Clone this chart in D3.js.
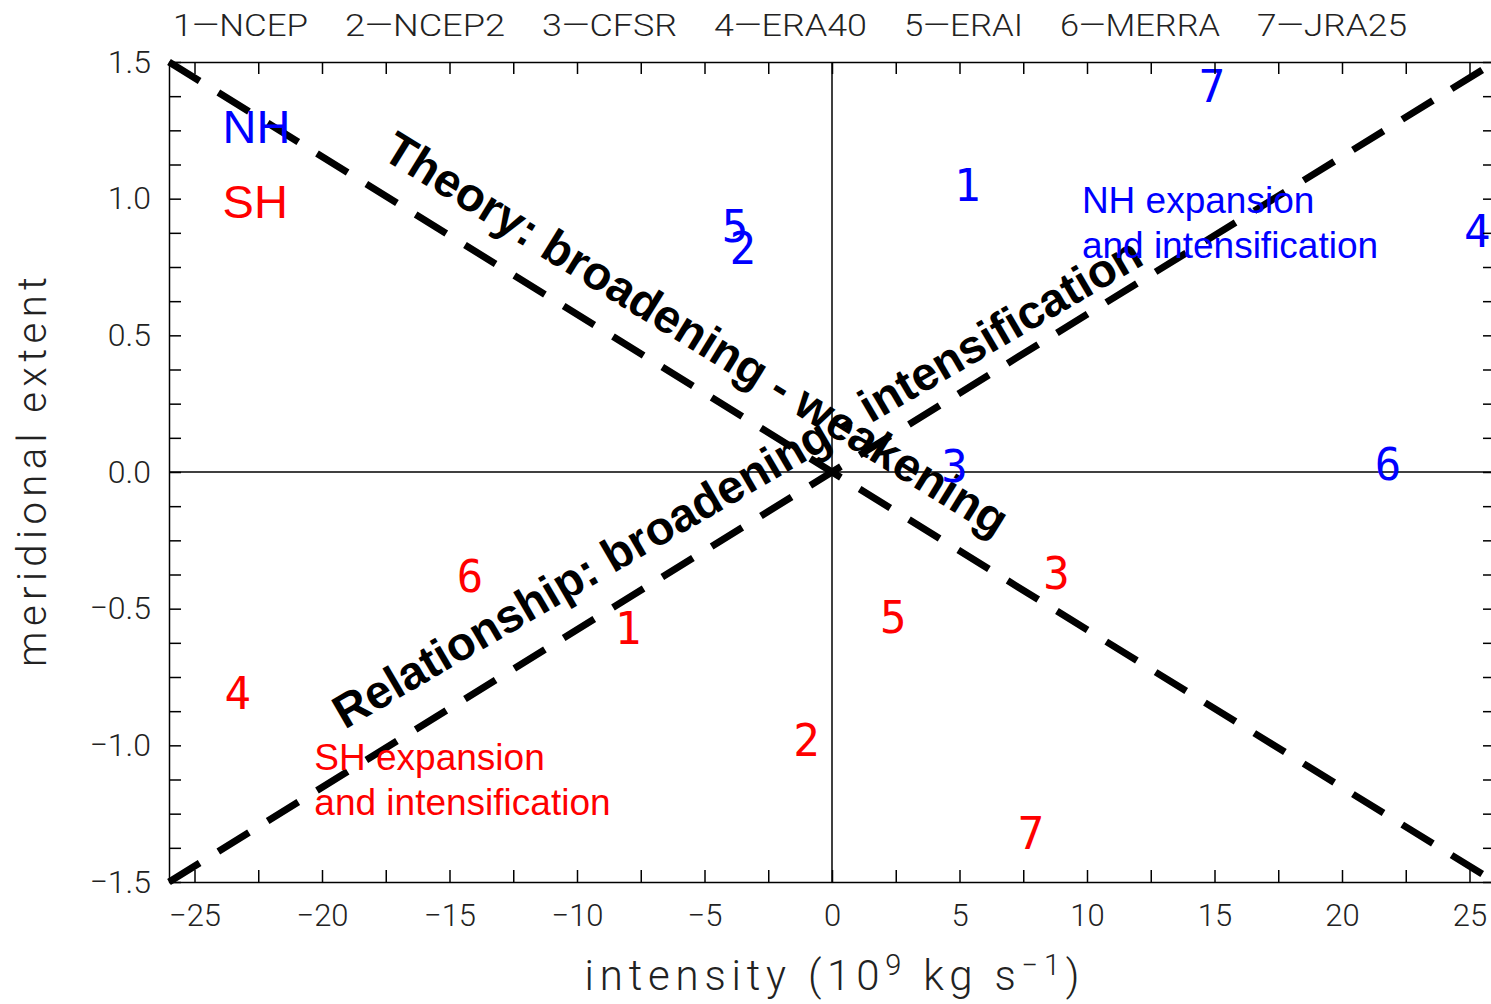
<!DOCTYPE html>
<html lang="en">
  <head>
    <meta charset="utf-8" />
    <title>Meridional extent vs intensity</title>
    <script src="https://d3js.org/d3.v7.min.js"></script>
    <style>
      body {
        margin: 0;
        background: white;
      }
      .axis path,
      .axis line {
        stroke: black;
        stroke-width: 1.5;
      }
      .axis text,
      .thin {
        font-family: "Roboto Light", Roboto, sans-serif;
        font-weight: 300;
        fill: #222;
      }
      .zero {
        stroke: black;
        stroke-width: 1.5;
      }
      .ref {
        stroke: black;
        stroke-width: 7;
        stroke-dasharray: 36, 22;
        fill: none;
      }
      .claim {
        font-family: "Liberation Sans", Arial, sans-serif;
        font-weight: bold;
        font-size: 47px;
        fill: black;
      }
      .note {
        font-family: "Liberation Sans", Arial, sans-serif;
      }
      .marker {
        font-family: "DejaVu Sans Mono", monospace;
        font-size: 44px;
        text-anchor: middle;
      }
    </style>
  </head>
  <body>
    <svg width="1491" height="1004"></svg>
    <script>
      // reanalysis products, numbered 1..7
      const datasets = ["NCEP", "NCEP2", "CFSR", "ERA40", "ERAI", "MERRA", "JRA25"];
      // NH: intensity (1e9 kg/s) and meridional extent
      const nhIntensity = [5.3, -3.5, 4.8, 25.3, -3.8, 21.8, 14.9];
      const nhExtent = [1.05, 0.82, 0.02, 0.88, 0.9, 0.03, 1.41];
      // SH
      const shIntensity = [-8.0, -1.0, 8.8, -23.3, 2.4, -14.2, 7.8];
      const shExtent = [-0.57, -0.98, -0.37, -0.81, -0.53, -0.38, -1.32];

      const xMajorTicks = [-25, -20, -15, -10, -5, 0, 5, 10, 15, 20, 25];
      const yMajorTicks = [-1.5, -1.0, -0.5, 0.0, 0.5, 1.0, 1.5];

      const svg = d3.select("svg");
      const x = d3.scaleLinear().domain([-26, 26]).range([169, 1495]);
      const y = d3.scaleLinear().domain([-1.5, 1.5]).range([882, 62]);

      const xMinor = d3.range(-25, 25.01, 2.5);
      const yMinor = d3.range(-1.5, 1.501, 0.125);
      const isMajor = (v, list) => list.some((t) => Math.abs(t - v) < 1e-6);

      // zero lines
      svg.append("line").attr("class", "zero")
        .attr("x1", x(0)).attr("x2", x(0)).attr("y1", y(-1.5)).attr("y2", y(1.5));
      svg.append("line").attr("class", "zero")
        .attr("x1", x(-26)).attr("x2", x(26)).attr("y1", y(0)).attr("y2", y(0));

      // the two dashed reference lines, corner to corner
      const refLines = [
        [[-26, 1.5], [26, -1.5]],
        [[-26, -1.5], [26, 1.5]],
      ];
      svg.append("g").selectAll("line").data(refLines).join("line")
        .attr("class", "ref")
        .attr("x1", (d) => x(d[0][0])).attr("y1", (d) => y(d[0][1]))
        .attr("x2", (d) => x(d[1][0])).attr("y2", (d) => y(d[1][1]));

      // rotated statements along the lines
      const angle1 = (Math.atan2(y(-1.5) - y(1.5), x(26) - x(-26)) * 180) / Math.PI;
      const claims = [
        { text: "Theory: broadening - weakening", x: -5.65, y: 0.455, rot: angle1 },
        { text: "Relationship: broadening - intensification", x: -3.4, y: -0.09, rot: -30.2 },
      ];
      svg.append("g").selectAll("text").data(claims).join("text")
        .attr("class", "claim")
        .attr("text-anchor", "middle")
        .attr("transform", (d) => `translate(${x(d.x)},${y(d.y)}) rotate(${d.rot})`)
        .text((d) => d.text);

      // coloured notes
      const notes = [
        { text: "NH", x: -23.9, y: 1.205, size: 47, color: "#0000ff" },
        { text: "SH", x: -23.9, y: 0.929, size: 47, color: "#ff0000" },
        { text: "NH expansion", x: 9.8, y: 0.948, size: 37, color: "#0000ff" },
        { text: "and intensification", x: 9.8, y: 0.783, size: 37, color: "#0000ff" },
        { text: "SH expansion", x: -20.3, y: -1.09, size: 37, color: "#ff0000" },
        { text: "and intensification", x: -20.3, y: -1.255, size: 37, color: "#ff0000" },
      ];
      svg.append("g").selectAll("text").data(notes).join("text")
        .attr("class", "note")
        .attr("x", (d) => x(d.x)).attr("y", (d) => y(d.y))
        .attr("font-size", (d) => d.size)
        .attr("fill", (d) => d.color)
        .text((d) => d.text);

      // dataset number markers
      const markers = datasets.flatMap((name, i) => [
        { n: i + 1, x: nhIntensity[i], y: nhExtent[i], color: "#0000ff" },
        { n: i + 1, x: shIntensity[i], y: shExtent[i], color: "#ff0000" },
      ]);
      svg.append("g").selectAll("text").data(markers).join("text")
        .attr("class", "marker")
        .attr("x", (d) => x(d.x)).attr("y", (d) => y(d.y))
        .attr("dy", "0.36em")
        .attr("fill", (d) => d.color)
        .text((d) => d.n);

      // axes: ticks inward on all four sides
      const fmtX = (v) => (isMajor(v, xMajorTicks) ? String(v).replace("-", "\u2212") : "");
      const fmtY = (v) => (isMajor(v, yMajorTicks) ? d3.format(".1f")(v).replace("-", "\u2212") : "");

      const bottom = svg.append("g").attr("class", "axis")
        .attr("transform", `translate(0,${y(-1.5)})`)
        .call(d3.axisBottom(x).tickValues(xMinor).tickSize(-12).tickSizeOuter(0).tickFormat(fmtX));
      bottom.selectAll("text").attr("y", 22).attr("font-size", 31);

      svg.append("g").attr("class", "axis")
        .attr("transform", `translate(0,${y(1.5)})`)
        .call(d3.axisTop(x).tickValues(xMinor).tickSize(-12).tickSizeOuter(0).tickFormat(""));

      const left = svg.append("g").attr("class", "axis")
        .attr("transform", `translate(${x(-26)},0)`)
        .call(d3.axisLeft(y).tickValues(yMinor).tickSize(-12).tickSizeOuter(0).tickFormat(fmtY));
      left.selectAll("text").attr("x", -18).attr("font-size", 32);

      svg.append("g").attr("class", "axis")
        .attr("transform", `translate(${x(26)},0)`)
        .call(d3.axisRight(y).tickValues(yMinor).tickSize(-12).tickSizeOuter(0).tickFormat(""));

      // title line with dataset key, each entry stretched to its width
      const keyWidths = [135, 160, 135, 153, 119, 160, 150];
      const keyGap = 37;
      let keyX = 173;
      datasets.forEach((d, i) => {
        svg.append("text").attr("class", "thin")
          .attr("x", keyX).attr("y", 36)
          .attr("font-size", 32)
          .attr("textLength", keyWidths[i])
          .attr("lengthAdjust", "spacingAndGlyphs")
          .text(`${i + 1}\u2014${d}`);
        keyX += keyWidths[i] + keyGap;
      });

      // axis titles
      const xl = svg.append("text").attr("class", "thin")
        .attr("x", x(0)).attr("y", 990)
        .attr("text-anchor", "middle")
        .attr("font-size", 42)
        .attr("textLength", 495)
        .attr("lengthAdjust", "spacing");
      xl.append("tspan").text("intensity (10");
      xl.append("tspan").attr("dy", -15).attr("font-size", 29).text("9");
      xl.append("tspan").attr("dy", 15).text(" kg s");
      xl.append("tspan").attr("dy", -15).attr("font-size", 29).text("\u22121");
      xl.append("tspan").attr("dy", 15).text(")");

      svg.append("text").attr("class", "thin")
        .attr("transform", `translate(46,${y(0)}) rotate(-90)`)
        .attr("text-anchor", "middle")
        .attr("font-size", 40)
        .attr("textLength", 390)
        .attr("lengthAdjust", "spacing")
        .text("meridional extent");
    </script>
  </body>
</html>
